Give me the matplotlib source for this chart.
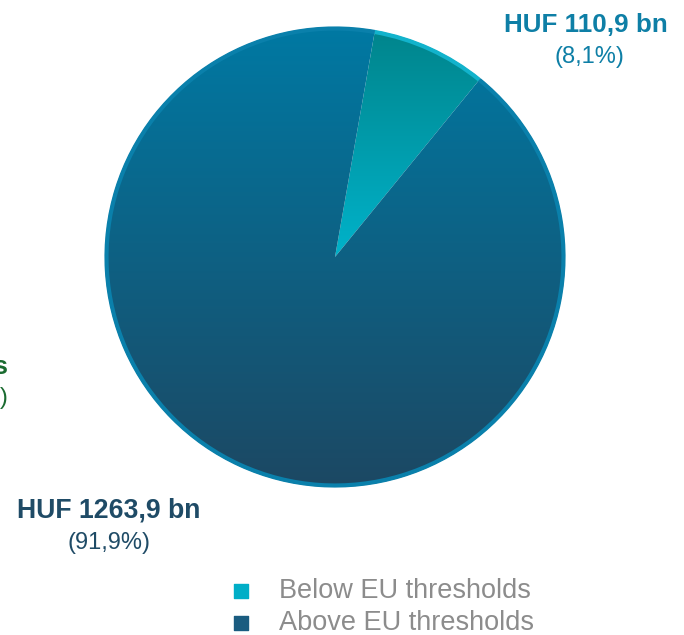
import numpy as np
import matplotlib.pyplot as plt
import matplotlib.colors as mcolors
from matplotlib.patches import Arc

# data
categories = ["Below EU thresholds", "Above EU thresholds"]
values_bn = [110.9, 1263.9]
shares = [8.1, 91.9]
value_labels = ["HUF 110,9 bn", "HUF 1263,9 bn"]
share_labels = ["(8,1%)", "(91,9%)"]

# gradient colours per slice (top, bottom) and rim colours
grad_colors = [("#00858C", "#00B2CA"), ("#0079A3", "#1C4863")]
rim_colors = ["#12B3CC", "#0A80AB"]
label_colors = ["#0E7FA6", "#1F4B66"]

plt.rcParams['font.family'] = ['Liberation Sans', 'DejaVu Sans']

fig = plt.figure(figsize=(6.84, 6.35), dpi=100)
ax = fig.add_axes([0, 0, 1, 1])

cx, cy, r = 335, 635 - 257, 230

wedges, _ = ax.pie(shares, startangle=80, counterclock=False,
                   center=(cx, cy), radius=r, frame=True,
                   wedgeprops=dict(linewidth=0))
ax.set_xlim(0, 684)
ax.set_ylim(0, 635)
ax.set_aspect('equal')
ax.axis('off')

# fill each wedge with a vertical gradient
for w, (top, bot) in zip(wedges, grad_colors):
    w.set_facecolor('none')
    bb = w.get_path().get_extents(w.get_transform() + ax.transData.inverted())
    cmap = mcolors.LinearSegmentedColormap.from_list('g', [bot, top])
    grad = np.linspace(0, 1, 256).reshape(-1, 1)
    im = ax.imshow(grad, cmap=cmap, origin='lower', aspect='auto',
                   extent=[bb.x0, bb.x1, bb.y0, bb.y1], zorder=1)
    im.set_clip_path(w)

# rims along the outer edge
for w, rim in zip(wedges, rim_colors):
    ax.add_patch(Arc((cx, cy), 2 * r - 3, 2 * r - 3,
                     theta1=w.theta1, theta2=w.theta2,
                     color=rim, linewidth=3, zorder=2))

# slice labels
ax.text(586, 635 - 25, value_labels[0], ha='center', va='center',
        fontsize=18.7, fontweight='bold', color=label_colors[0])
ax.text(589, 635 - 57, share_labels[0], ha='center', va='center',
        fontsize=17, color=label_colors[0])
ax.text(109, 635 - 511, value_labels[1], ha='center', va='center',
        fontsize=19.2, fontweight='bold', color=label_colors[1])
ax.text(109, 635 - 543, share_labels[1], ha='center', va='center',
        fontsize=17, color=label_colors[1])

# label of the neighbouring chart, cut off at the left edge as in the source
ax.text(8, 635 - 367, "Services", ha='right', va='center',
        fontsize=18.7, fontweight='bold', color="#1A6B30", clip_on=False)
ax.text(8, 635 - 398, "(0,0%)", ha='right', va='center',
        fontsize=17, color="#1A6B30", clip_on=False)

# legend
leg_y = [635 - 591, 635 - 623]
marker_colors = ["#00AEC7", "#1A5C80"]
for lab, y, mc in zip(categories, leg_y, marker_colors):
    ax.scatter([241], [y], marker='s', s=110, color=mc, zorder=3)
    ax.text(279, y, lab, ha='left', va='center', fontsize=19.5,
            color="#8C8C8C")

plt.savefig("out.png", dpi=100)
